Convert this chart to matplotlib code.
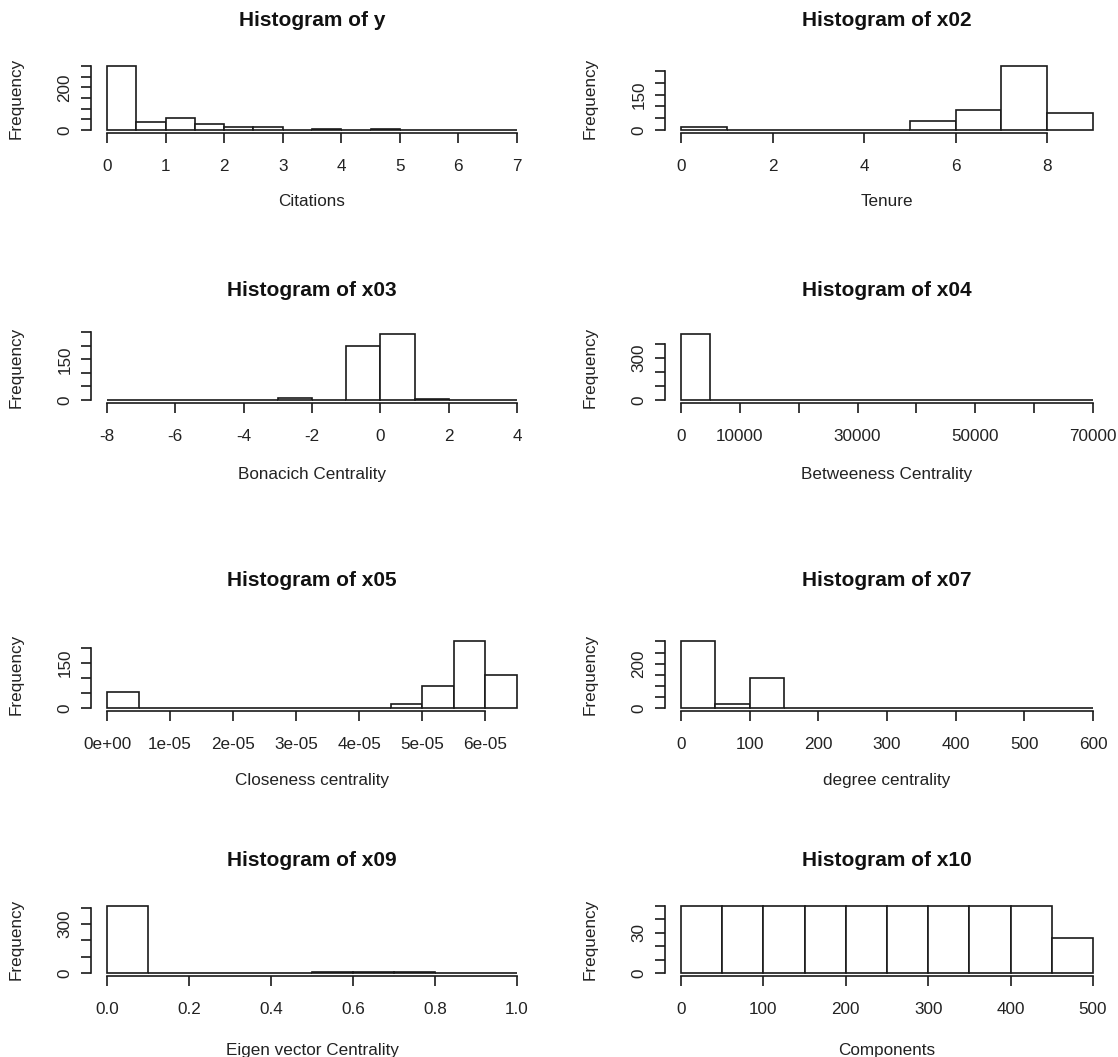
import numpy as np
import matplotlib
matplotlib.use("Agg")
import matplotlib.pyplot as plt

plt.rcParams['font.family'] = ['Liberation Sans', 'DejaVu Sans']

# bin counts read per variable (R hist default breaks)
y_counts = [301, 38, 56, 26, 12, 13, 1, 5, 1, 6, 0, 0, 0, 1]
x02_counts = [13, 0, 0, 0, 0, 37, 83, 272, 71]
x03_counts = [1, 0, 0, 0, 0, 6, 0, 200, 244, 4, 0, 1]
x04_counts = [470, 2, 1, 1, 0, 0, 0, 0, 0, 0, 0, 0, 0, 1]
x05_counts = [52, 0, 0, 0, 0, 0, 0, 0, 0, 14, 72, 224, 109]
x07_counts = [302, 17, 134, 0, 0, 0, 0, 0, 0, 0, 0, 1]
x09_counts = [411, 0, 0, 0, 0, 5, 6, 5, 0, 1]
x10_counts = [50, 50, 50, 50, 50, 50, 50, 50, 50, 26]

panels = [
    dict(name="y", xlabel="Citations", start=0, width=0.5, counts=y_counts,
         xticks=[0, 1, 2, 3, 4, 5, 6, 7], xlabels=["0", "1", "2", "3", "4", "5", "6", "7"],
         yticks=[0, 50, 100, 150, 200, 250, 300], ylabels={0: "0", 200: "200"}),
    dict(name="x02", xlabel="Tenure", start=0, width=1, counts=x02_counts,
         xticks=[0, 2, 4, 6, 8], xlabels=["0", "2", "4", "6", "8"],
         yticks=[0, 50, 100, 150, 200, 250], ylabels={0: "0", 150: "150"}),
    dict(name="x03", xlabel="Bonacich Centrality", start=-8, width=1, counts=x03_counts,
         xticks=[-8, -6, -4, -2, 0, 2, 4], xlabels=["-8", "-6", "-4", "-2", "0", "2", "4"],
         yticks=[0, 50, 100, 150, 200, 250], ylabels={0: "0", 150: "150"}),
    dict(name="x04", xlabel="Betweeness Centrality", start=0, width=5000, counts=x04_counts,
         xticks=[0, 10000, 20000, 30000, 40000, 50000, 60000, 70000],
         xlabels=["0", "10000", "", "30000", "", "50000", "", "70000"],
         yticks=[0, 100, 200, 300, 400], ylabels={0: "0", 300: "300"}),
    dict(name="x05", xlabel="Closeness centrality", start=0, width=5e-6, counts=x05_counts,
         xticks=[0, 1e-5, 2e-5, 3e-5, 4e-5, 5e-5, 6e-5],
         xlabels=["0e+00", "1e-05", "2e-05", "3e-05", "4e-05", "5e-05", "6e-05"],
         yticks=[0, 50, 100, 150, 200], ylabels={0: "0", 150: "150"}),
    dict(name="x07", xlabel="degree centrality", start=0, width=50, counts=x07_counts,
         xticks=[0, 100, 200, 300, 400, 500, 600],
         xlabels=["0", "100", "200", "300", "400", "500", "600"],
         yticks=[0, 50, 100, 150, 200, 250, 300], ylabels={0: "0", 200: "200"}),
    dict(name="x09", xlabel="Eigen vector Centrality", start=0, width=0.1, counts=x09_counts,
         xticks=[0, 0.2, 0.4, 0.6, 0.8, 1.0], xlabels=["0.0", "0.2", "0.4", "0.6", "0.8", "1.0"],
         yticks=[0, 100, 200, 300, 400], ylabels={0: "0", 300: "300"}),
    dict(name="x10", xlabel="Components", start=0, width=50, counts=x10_counts,
         xticks=[0, 100, 200, 300, 400, 500], xlabels=["0", "100", "200", "300", "400", "500"],
         yticks=[0, 10, 20, 30, 40, 50], ylabels={0: "0", 30: "30"}),
]

W, H = 1118, 1057
fig = plt.figure(figsize=(W / 100, H / 100), dpi=100)

# pixel layout: (title y, zero y, max-bar y, xlabel y) per row
rows = [(20, 130, 66, 201), (290, 400, 334, 475), (581, 708, 641, 781), (861, 973, 906, 1050)]
cols = [(107, 517), (681, 1093)]
FS = 12.3

for i, p in enumerate(panels):
    title_y, zero_y, top_y, xlab_y = rows[i // 2]
    x0, x1 = cols[i % 2]
    counts = np.array(p["counts"])
    edges = p["start"] + p["width"] * np.arange(len(counts) + 1)
    lo, hi = edges[0], edges[-1]
    M = counts.max()

    span = x1 - x0
    left = x0 - 0.04 * span
    wpx = span * 1.08
    h = zero_y - top_y
    bottom = zero_y + 0.04 * h
    hpx = h * 1.08
    ax = fig.add_axes([left / W, 1 - bottom / H, wpx / W, hpx / H])

    ax.bar(edges[:-1], counts, width=p["width"], align="edge",
           facecolor="white", edgecolor="#1a1a1a", linewidth=1.2)
    ax.set_xlim(lo - 0.04 * (hi - lo), hi + 0.04 * (hi - lo))
    ax.set_ylim(-0.04 * M, 1.04 * M)

    for s in ["top", "right"]:
        ax.spines[s].set_visible(False)
    for s in ["left", "bottom"]:
        ax.spines[s].set_linewidth(1.2)
        ax.spines[s].set_color("#1a1a1a")
    ax.spines["left"].set_bounds(p["yticks"][0], p["yticks"][-1])
    ax.spines["bottom"].set_bounds(p["xticks"][0], p["xticks"][-1])

    ax.set_xticks(p["xticks"])
    ax.set_xticklabels(p["xlabels"])
    ax.set_yticks(p["yticks"])
    ax.set_yticklabels([p["ylabels"].get(t, "") for t in p["yticks"]],
                       rotation=90, va="center")
    ax.tick_params(direction="out", length=7, width=1.2, color="#1a1a1a",
                   labelsize=FS, labelcolor="#222222")
    ax.tick_params(axis="x", pad=12)
    ax.tick_params(axis="y", pad=6)

    cx = (left + left + wpx) / 2
    fig.text(cx / W, 1 - title_y / H, "Histogram of " + p["name"],
             ha="center", va="center", fontsize=15, fontweight="bold", color="#111111")
    fig.text(cx / W, 1 - xlab_y / H, p["xlabel"],
             ha="center", va="center", fontsize=FS, color="#222222")
    fig.text((x0 - 91) / W, 1 - (bottom - hpx / 2) / H, "Frequency",
             ha="center", va="center", rotation=90, fontsize=FS, color="#222222")

fig.savefig("out.png", dpi=100, facecolor="white")
